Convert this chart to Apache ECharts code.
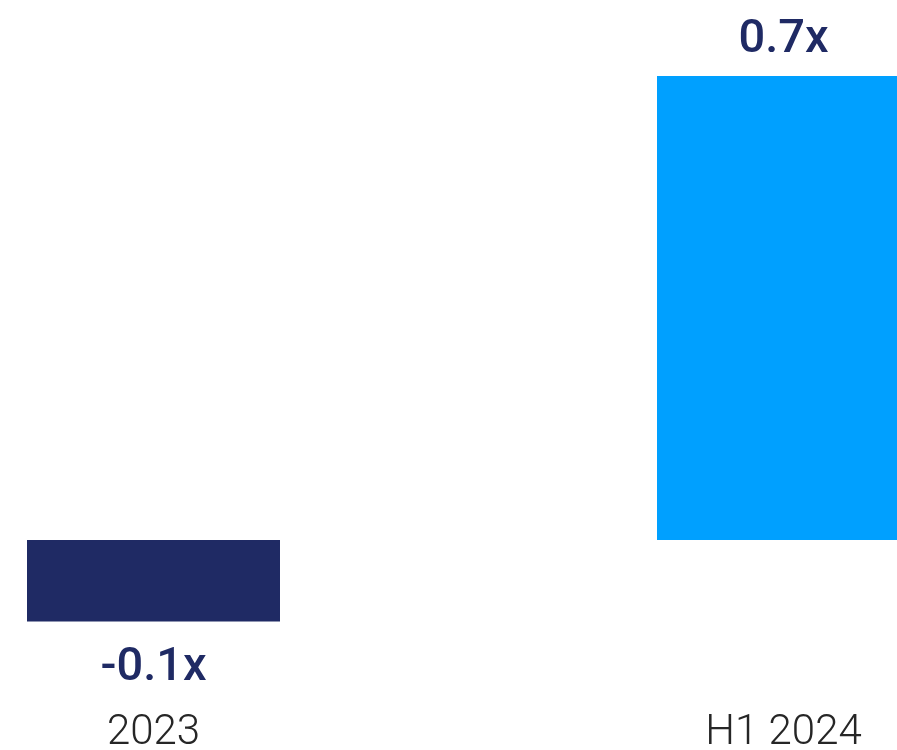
<!DOCTYPE html>
<html>
<head>
<meta charset="utf-8">
<script src="https://cdn.jsdelivr.net/npm/echarts@6/dist/echarts.min.js"></script>
<style>
  html, body { margin: 0; padding: 0; background: #ffffff; }
  #chart { width: 897px; height: 750px; }
</style>
</head>
<body>
<div id="chart"></div>
<script>
// Period labels along the bottom
const categories = ['2023', 'H1 2024'];
// Multiple values per period
const values = [-0.123, 0.7];
// Bar fill per period
const barColors = ['#1f2a64', '#00a0ff'];

const chart = echarts.init(document.getElementById('chart'));

chart.setOption({
  animation: false,
  backgroundColor: '#ffffff',
  grid: { left: 153.5, right: 113.5, top: 9.7, bottom: 77.4, outerBoundsMode: 'none', containLabel: false },
  xAxis: {
    type: 'category',
    data: categories,
    boundaryGap: false,
    axisLine: { show: false },
    axisTick: { show: false },
    splitLine: { show: false },
    axisLabel: {
      margin: 40,
      color: '#262626',
      fontFamily: 'Roboto',
      fontSize: 42,
      fontWeight: 300
    }
  },
  yAxis: {
    type: 'value',
    min: -0.2,
    max: 0.8,
    show: false,
    splitLine: { show: false }
  },
  series: [{
    type: 'bar',
    clip: false,
    barWidth: 253,
    data: values.map((v, i) => ({
      value: v,
      itemStyle: { color: barColors[i] },
      label: { position: v < 0 ? 'bottom' : 'top', distance: v < 0 ? 23 : 12 }
    })),
    label: {
      show: true,
      color: '#1f2a64',
      fontFamily: 'Roboto',
      fontSize: 47,
      fontWeight: 500,
      formatter: p => p.value.toFixed(1) + 'x'
    }
  }]
});
</script>
</body>
</html>
